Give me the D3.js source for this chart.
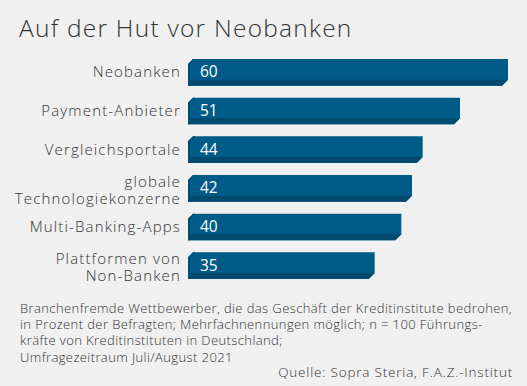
<!DOCTYPE html>
<html>
<head>
<meta charset="utf-8">
<script src="https://cdn.jsdelivr.net/npm/d3@7"></script>
<style>
  html, body { margin: 0; padding: 0; background: #f0f0f0; }
  svg { display: block; }
  text { font-family: "Open Sans", "Lato", sans-serif; }
</style>
</head>
<body>
<svg id="chart" width="527" height="386"></svg>
<script>
// Data
const categories = ["Neobanken", "Payment-Anbieter", "Vergleichsportale", "globale Technologiekonzerne", "Multi-Banking-Apps", "Plattformen von Non-Banken"];
const labelLines = [["Neobanken"], ["Payment-Anbieter"], ["Vergleichsportale"], ["globale", "Technologiekonzerne"], ["Multi-Banking-Apps"], ["Plattformen von", "Non-Banken"]];
const values = [60, 51, 44, 42, 40, 35];
const title = "Auf der Hut vor Neobanken";
const noteLines = [
  "Branchenfremde Wettbewerber, die das Geschäft der Kreditinstitute bedrohen,",
  "in Prozent der Befragten; Mehrfachnennungen möglich; n = 100 Führungs-",
  "kräfte von Kreditinstituten in Deutschland;",
  "Umfragezeitraum Juli/August 2021"
];
const source = "Quelle: Sopra Steria, F.A.Z.-Institut";

const W = 527, H = 386;
const $svg = d3.select("#chart");

const x = d3.scaleLinear().domain([0, 60]).range([188, 508]);
const y = d3.scaleBand().domain(categories).range([59, 279]).paddingInner(0.31).paddingOuter(0);

// Title
$svg.append("text")
  .attr("x", 19).attr("y", 37)
  .attr("font-size", 24.5).attr("fill", "#333")
  .attr("font-weight", 300)
  .attr("letter-spacing", 1.25)
  .text(title);

// Bars
const bw = y.bandwidth();
const depth = 6, cham = 5;
const $bars = $svg.append("g");

categories.forEach((c, i) => {
  const x0 = x(0), x1 = x(values[i]), y0 = y(c), y1 = y0 + bw;
  const g = $bars.append("g");
  // main face
  g.append("path")
    .attr("d", `M${x0 + cham},${y0}L${x1},${y0}L${x1},${y1 - depth}L${x1 - depth},${y1}L${x0},${y1}L${x0},${y0 + cham}Z`)
    .attr("fill", "#005b88");
  // bottom strip
  g.append("path")
    .attr("d", `M${x0},${y1 - depth}L${x1},${y1 - depth}L${x1 - depth},${y1}L${x0},${y1}Z`)
    .attr("fill", "#004a70");
  // left sliver
  g.append("path")
    .attr("d", `M${x0},${y0 + cham}L${x0 + cham},${y0}L${x0 + cham + 2},${y0}L${x0 + 2},${y0 + cham}L${x0 + 2},${y1}L${x0},${y1}Z`)
    .attr("fill", "#004d76");
  // value
  g.append("text")
    .attr("x", x0 + 12).attr("y", y0 + bw / 2 + 1)
    .attr("dominant-baseline", "middle")
    .attr("font-size", 15.5).attr("fill", "#fff")
    .text(values[i]);
});

// Category labels
categories.forEach((c, i) => {
  const lines = labelLines[i];
  const cy = y(c) + bw / 2;
  const lh = 16.5;
  const shift = lines.length > 1 ? 2 : 0;
  lines.forEach((l, k) => {
    $svg.append("text")
      .attr("text-anchor", "end")
      .attr("font-size", 15).attr("fill", "#333")
      .attr("font-weight", 300)
      .attr("letter-spacing", 1.15)
      .attr("x", 181)
      .attr("y", cy + 5 + shift + (k - (lines.length - 1) / 2) * lh)
      .text(l);
  });
});

// Note
noteLines.forEach((l, k) => {
  $svg.append("text")
    .attr("x", 20).attr("y", 313 + k * 16.2)
    .attr("font-size", 13).attr("fill", "#333")
    .attr("font-weight", 300)
    .attr("letter-spacing", 0.4)
    .text(l);
});

$svg.append("text")
  .attr("x", 513).attr("y", 377)
  .attr("text-anchor", "end")
  .attr("font-size", 13.5).attr("fill", "#333")
  .attr("font-weight", 300)
  .attr("letter-spacing", 0.8)
  .text(source);
</script>
</body>
</html>
